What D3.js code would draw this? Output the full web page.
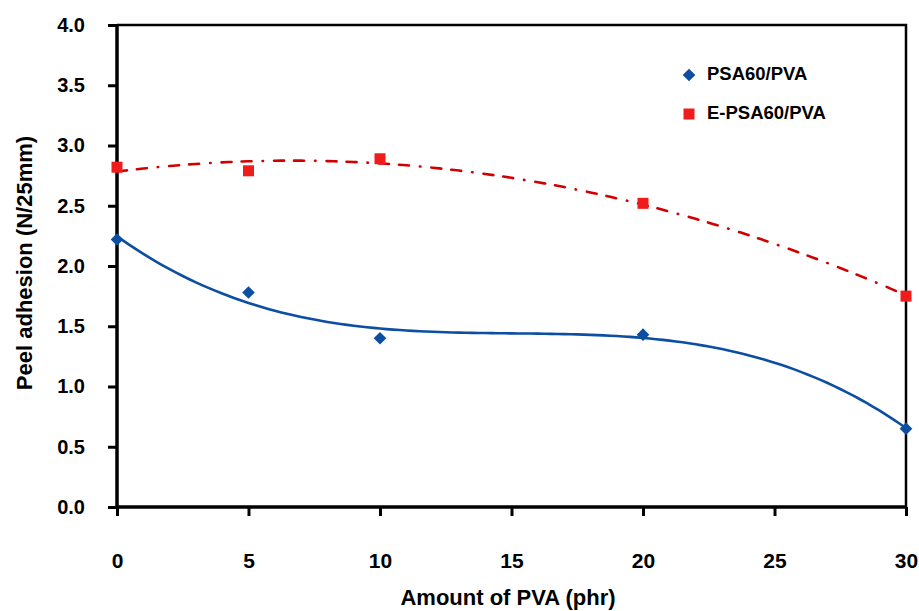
<!DOCTYPE html>
<html>
<head>
<meta charset="utf-8">
<script src="https://cdn.jsdelivr.net/npm/d3@7"></script>
<style>
  html, body { margin: 0; padding: 0; background: #fff; }
  svg { display: block; font-family: "Liberation Sans", Arial, sans-serif; }
</style>
</head>
<body>
<svg id="chart" width="919" height="611"></svg>
<script>
// PVA loading (phr)
const pvaAmounts = [0, 5, 10, 20, 30];
// Peel adhesion (N/25mm)
const psaValues = [2.22, 1.78, 1.40, 1.43, 0.65];
const epsaValues = [2.82, 2.79, 2.89, 2.52, 1.75];
const seriesNames = ["PSA60/PVA", "E-PSA60/PVA"];
const xTicks = [0, 5, 10, 15, 20, 25, 30];
const yTicks = [0, 0.5, 1.0, 1.5, 2.0, 2.5, 3.0, 3.5, 4.0];

const svg = d3.select("#chart");
const margin = { left: 117, top: 25, right: 13, bottom: 104 };
const W = 919, H = 611;
const x = d3.scaleLinear().domain([0, 30]).range([margin.left, W - margin.right]);
const y = d3.scaleLinear().domain([0, 4]).range([H - margin.bottom, margin.top]);

// least-squares polynomial trendline
function polyFit(xs, ys, deg) {
  const n = deg + 1;
  const A = Array.from({ length: n }, () => new Array(n + 1).fill(0));
  for (let i = 0; i < xs.length; i++) {
    for (let r = 0; r < n; r++) {
      for (let c = 0; c < n; c++) A[r][c] += Math.pow(xs[i], r + c);
      A[r][n] += ys[i] * Math.pow(xs[i], r);
    }
  }
  for (let p = 0; p < n; p++) {
    let m = p;
    for (let r = p + 1; r < n; r++) if (Math.abs(A[r][p]) > Math.abs(A[m][p])) m = r;
    [A[p], A[m]] = [A[m], A[p]];
    for (let r = 0; r < n; r++) {
      if (r === p) continue;
      const f = A[r][p] / A[p][p];
      for (let c = p; c <= n; c++) A[r][c] -= f * A[p][c];
    }
  }
  const coef = A.map((row, i) => row[n] / row[i]);
  return t => coef.reduce((s, c, i) => s + c * Math.pow(t, i), 0);
}

const blue = "#0b4ea2", red = "#f01c1c", darkRed = "#d00000";
const font = "'Liberation Sans', Arial, sans-serif";

// frame (top and right)
svg.append("path")
  .attr("d", `M${x(0)},${y(4)} H${x(30)} V${y(0)}`)
  .attr("fill", "none").attr("stroke", "#000").attr("stroke-width", 2.5);

// axes
const yAxis = svg.append("g").attr("transform", `translate(${x(0)},0)`)
  .call(d3.axisLeft(y).tickValues(yTicks).tickFormat(d3.format(".1f")).tickSize(9).tickPadding(23));
const xAxis = svg.append("g").attr("transform", `translate(0,${y(0)})`)
  .call(d3.axisBottom(x).tickValues(xTicks).tickFormat(d3.format("d")).tickSize(9).tickPadding(37));
[yAxis, xAxis].forEach(g => {
  g.select(".domain").attr("stroke-width", 3.5);
  g.selectAll(".tick line").attr("stroke-width", 3);
  g.selectAll("text").attr("font-weight", "bold")
    .attr("font-family", font).attr("fill", "#000");
});
yAxis.selectAll("text").attr("font-size", 20);
xAxis.selectAll("text").attr("font-size", 21);
yAxis.select(".domain").attr("d", `M0,${y(0)}V${y(4)}`);
xAxis.select(".domain").attr("d", `M${x(0)},0H${x(30)}`);

// axis titles
svg.append("text").attr("x", 508).attr("y", 605).attr("text-anchor", "middle")
  .attr("font-size", 22).attr("font-weight", "bold").text("Amount of PVA (phr)");
svg.append("text").attr("transform", "translate(32,263) rotate(-90)")
  .attr("text-anchor", "middle").attr("font-size", 22).attr("font-weight", "bold")
  .text("Peel adhesion (N/25mm)");

// trendlines
const samples = d3.range(0, 30.001, 0.25);
const line = d3.line().x(d => x(d[0])).y(d => y(d[1]));
const fitPsa = polyFit(pvaAmounts, psaValues, 3);
const fitEpsa = polyFit(pvaAmounts, epsaValues, 2);
svg.append("path").datum(samples.map(t => [t, fitEpsa(t)])).attr("d", line)
  .attr("fill", "none").attr("stroke", darkRed).attr("stroke-width", 2.6)
  .attr("stroke-linecap", "round")
  .attr("stroke-dasharray", "10,10,10,11,0.5,11");
svg.append("path").datum(samples.map(t => [t, fitPsa(t)])).attr("d", line)
  .attr("fill", "none").attr("stroke", blue).attr("stroke-width", 2.6);

// markers
const diamond = d3.symbol().type(d3.symbolSquare).size(80);
svg.append("g").selectAll("path").data(pvaAmounts.map((d, i) => [d, psaValues[i]])).join("path")
  .attr("d", diamond).attr("transform", d => `translate(${x(d[0])},${y(d[1])}) rotate(45)`)
  .attr("fill", blue);
svg.append("g").selectAll("rect").data(pvaAmounts.map((d, i) => [d, epsaValues[i]])).join("rect")
  .attr("x", d => x(d[0]) - 5.5).attr("y", d => y(d[1]) - 5.5)
  .attr("width", 11).attr("height", 11).attr("fill", red);

// legend
const lg = svg.append("g");
lg.append("path").attr("d", diamond).attr("transform", "translate(689,75) rotate(45)").attr("fill", blue);
lg.append("rect").attr("x", 683.5).attr("y", 108.5).attr("width", 11).attr("height", 11).attr("fill", red);
lg.selectAll("text").data(seriesNames).join("text")
  .attr("x", 707).attr("y", (d, i) => 74 + i * 39).attr("dy", "0.35em")
  .attr("font-size", 18.5).attr("font-weight", "bold").text(d => d);
</script>
</body>
</html>
